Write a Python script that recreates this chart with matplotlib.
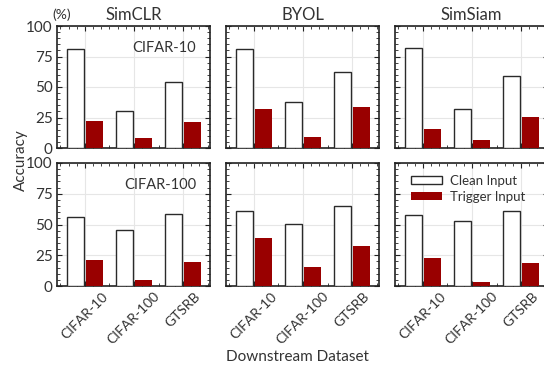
import matplotlib
matplotlib.use("Agg")
import matplotlib.pyplot as plt
import numpy as np
from matplotlib.ticker import MultipleLocator, AutoMinorLocator

plt.rcParams['font.family'] = ['Lato', 'DejaVu Sans']

methods = ["SimCLR", "BYOL", "SimSiam"]
pretrain = ["CIFAR-10", "CIFAR-100"]
downstream = ["CIFAR-10", "CIFAR-100", "GTSRB"]

# clean / trigger accuracy [pretrain][method][downstream]
clean_c10 = {"SimCLR": [81, 30.5, 54], "BYOL": [81, 37.7, 62.5], "SimSiam": [82.2, 32, 59]}
trig_c10 = {"SimCLR": [22, 8.5, 21.3], "BYOL": [32, 9, 33.6], "SimSiam": [15.6, 6.6, 25.4]}
clean_c100 = {"SimCLR": [55.9, 45.8, 58.3], "BYOL": [60.8, 50.7, 65], "SimSiam": [57.5, 52.9, 60.8]}
trig_c100 = {"SimCLR": [21, 4.6, 19.4], "BYOL": [39, 15.3, 32.5], "SimSiam": [22.6, 3, 18.5]}

yticks = [0, 25, 50, 75, 100]

W, H = 544, 368
fig = plt.figure(figsize=(W / 100, H / 100), dpi=100)

col_x = [57, 226, 395]
ax_w = 153
row_y = [(26, 148), (163, 286)]

red = "#990000"
x = np.arange(len(downstream))
bw = 0.35
off = 0.2

data_rows = [(clean_c10, trig_c10), (clean_c100, trig_c100)]

for r, (top, bot) in enumerate(row_y):
    for c, m in enumerate(methods):
        ax = fig.add_axes([col_x[c] / W, 1 - bot / H, ax_w / W, (bot - top) / H])
        cl, tr = data_rows[r]
        ax.bar(x - off, cl[m], bw, facecolor="white", edgecolor="#2a2a2a", linewidth=1.0,
               label="Clean Input", zorder=3)
        ax.bar(x + off, tr[m], bw, facecolor=red, edgecolor="none", label="Trigger Input", zorder=3)
        ax.set_xlim(-0.57, 2.55)
        ax.set_ylim(0, 100)
        ax.set_yticks(yticks)
        ax.set_xticks(x)
        ax.xaxis.set_minor_locator(AutoMinorLocator(6))
        ax.yaxis.set_minor_locator(MultipleLocator(5))
        ax.grid(True, which="major", color="#e6e6e6", linewidth=0.8, zorder=0)
        ax.tick_params(which="both", direction="in", top=True, right=True, colors="#222222",
                       labelsize=11, labelcolor="#333333")
        ax.tick_params(which="major", length=3.5, width=0.8, pad=3)
        ax.tick_params(which="minor", length=2, width=0.6)
        for s in ax.spines.values():
            s.set_linewidth(1.2)
            s.set_color("#222222")
        if r == 1:
            ax.set_xticklabels(downstream, rotation=45, ha="center", rotation_mode="default",
                               fontsize=10, color="#333333")
        else:
            ax.set_xticklabels([])
            ax.set_title(m, fontsize=12, color="#333333", pad=4)
        if c != 0:
            ax.set_yticklabels([])
        if c == 0:
            ax.text(0.91, 0.82, pretrain[r], transform=ax.transAxes, ha="right", va="center",
                    fontsize=10.5, color="#333333", zorder=5)
        if r == 1 and c == 2:
            ax.legend(loc="upper left", bbox_to_anchor=(0.03, 1.0), frameon=False, fontsize=9.5,
                      handlelength=2.3, handleheight=0.6, labelspacing=0.3, handletextpad=0.6,
                      labelcolor="#333333")

fig.text(62 / W, 1 - 15 / H, "(%)", ha="center", va="center", fontsize=10, color="#333333")
fig.text(21 / W, 1 - 160 / H, "Accuracy", rotation=90, ha="center", va="center",
         fontsize=11, color="#333333")
fig.text(297 / W, 1 - 357 / H, "Downstream Dataset", ha="center", va="center",
         fontsize=11, color="#333333")

fig.savefig("out.png", dpi=100)
